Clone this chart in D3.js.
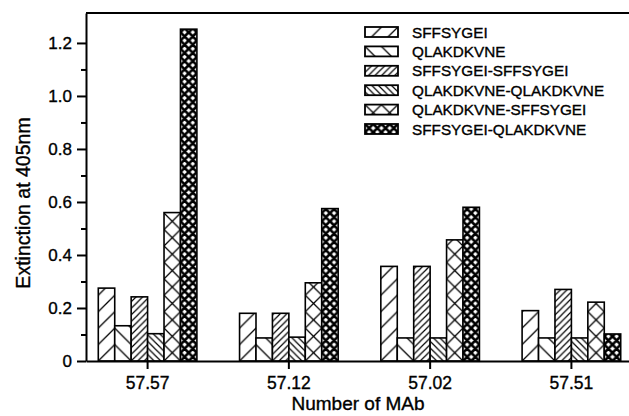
<!DOCTYPE html>
<html>
<head>
<meta charset="utf-8">
<script src="https://cdn.jsdelivr.net/npm/d3@7"></script>
<style>
  body { margin: 0; background: #fff; }
  text { font-family: "Liberation Sans", Arial, Helvetica, sans-serif; fill: #000; stroke: #000; stroke-width: 0.35px; }
</style>
</head>
<body>
<div id="chart"></div>
<script>

var groups = ["57.57", "57.12", "57.02", "57.51"];
var seriesNames = [
  "SFFSYGEI",
  "QLAKDKVNE",
  "SFFSYGEI-SFFSYGEI",
  "QLAKDKVNE-QLAKDKVNE",
  "QLAKDKVNE-SFFSYGEI",
  "SFFSYGEI-QLAKDKVNE"
];

// extinction values, one per MAb in the order of groups
var sffsygei     = [0.275, 0.180, 0.357, 0.190];
var qlakdkvne    = [0.133, 0.087, 0.087, 0.087];
var sffSff       = [0.242, 0.180, 0.357, 0.270];
var qlaQla       = [0.103, 0.090, 0.087, 0.087];
var qlaSff       = [0.560, 0.295, 0.457, 0.222];
var sffQla       = [1.252, 0.575, 0.580, 0.102];
var seriesValues = [sffsygei, qlakdkvne, sffSff, qlaQla, qlaSff, sffQla];

var yTicks = [0, 0.2, 0.4, 0.6, 0.8, 1.0, 1.2];
var yMinorTicks = [0.1, 0.3, 0.5, 0.7, 0.9, 1.1];

var svgWidth = 629;
var svgHeight = 416;

var margin = {
  top: 13,
  right: -4,
  bottom: 55,
  left: 86
};

var width = svgWidth - margin.left - margin.right;
var height = svgHeight - margin.top - margin.bottom;

var svg = d3.select("#chart")
  .append("svg")
  .attr("width", svgWidth)
  .attr("height", svgHeight);

var chartGroup = svg.append("g")
  .attr("transform", `translate(${margin.left}, ${margin.top})`);

var x = d3.scaleBand()
  .domain(groups)
  .range([0, width])
  .paddingInner(0.302)
  .paddingOuter(0.087);

var xSub = d3.scaleBand()
  .domain(seriesNames)
  .range([0, x.bandwidth()]);

var y = d3.scaleLinear()
  .domain([0, 1.313])
  .range([height, 0]);

var bw = xSub.bandwidth();

// hatch patterns
var defs = svg.append("defs");

function fwd(s) {
  return `M${-s/2},${s/2}L${s/2},${-s/2}M0,${s}L${s},0M${s/2},${s*1.5}L${s*1.5},${s/2}`;
}
function back(s) {
  return `M${-s/2},${s/2}L${s/2},${s*1.5}M0,0L${s},${s}M${s/2},${-s/2}L${s*1.5},${s/2}`;
}

function hatch(id, s, d, sw) {
  var p = defs.append("pattern")
    .attr("id", id)
    .attr("patternUnits", "userSpaceOnUse")
    .attr("width", s)
    .attr("height", s);
  p.append("rect").attr("width", s).attr("height", s).attr("fill", "#fff");
  p.append("path")
    .attr("d", d)
    .attr("fill", "none")
    .attr("stroke", "#000")
    .attr("stroke-width", sw);
}

hatch("p0", bw, fwd(bw), 1.3);
hatch("p1", bw, back(bw), 1.3);
hatch("p2", bw / 2.5, fwd(bw / 2.5), 1.2);
hatch("p3", bw / 2.5, back(bw / 2.5), 1.2);
hatch("p4", bw, fwd(bw) + back(bw), 1.3);
hatch("p5", bw / 2, fwd(bw / 2) + back(bw / 2), 2.6);

// bars
var barData = [];
groups.forEach(function(g, gi) {
  seriesNames.forEach(function(s, si) {
    barData.push({ group: g, series: s, idx: si, value: seriesValues[si][gi] });
  });
});

var bars = chartGroup.selectAll(".bar")
  .data(barData)
  .enter()
  .append("g")
  .attr("class", "bar")
  .attr("transform", d => `translate(${x(d.group) + xSub(d.series)}, ${y(0)})`);

bars.append("rect")
  .attr("x", 0)
  .attr("y", d => y(d.value) - y(0))
  .attr("width", bw)
  .attr("height", d => y(0) - y(d.value))
  .attr("fill", d => `url(#p${d.idx})`)
  .attr("stroke", "#000")
  .attr("stroke-width", 1.6);

// axes
var leftAxis = d3.axisLeft(y)
  .tickValues(yTicks)
  .tickSize(9)
  .tickSizeOuter(0)
  .tickPadding(5)
  .tickFormat(d => d === 0 ? "0" : d3.format(".1f")(d));

var yAxis = chartGroup.append("g").call(leftAxis);

var minorAxis = d3.axisLeft(y)
  .tickValues(yMinorTicks)
  .tickSize(5)
  .tickFormat("");

chartGroup.append("g").call(minorAxis).select(".domain").remove();

var bottomAxis = d3.axisBottom(x)
  .tickSize(8)
  .tickSizeOuter(0)
  .tickPadding(8);

var xAxis = chartGroup.append("g")
  .attr("transform", `translate(0, ${height})`)
  .call(bottomAxis);

chartGroup.selectAll(".domain, .tick line")
  .attr("stroke", "#000")
  .attr("stroke-width", 2);

yAxis.selectAll("text").style("font-size", "17px").style("font-family", "'Liberation Sans', Arial, sans-serif");
xAxis.selectAll("text").style("font-size", "17.5px").style("font-family", "'Liberation Sans', Arial, sans-serif");

// top frame line
chartGroup.append("line")
  .attr("x1", 0)
  .attr("x2", width)
  .attr("y1", 0)
  .attr("y2", 0)
  .attr("stroke", "#000")
  .attr("stroke-width", 2);

// axis titles
chartGroup.append("text")
  .attr("transform", "rotate(-90)")
  .attr("x", -(height / 2) - 16)
  .attr("y", -margin.left + 30)
  .attr("text-anchor", "middle")
  .style("font-size", "19.5px")
  .text("Extinction at 405nm");

chartGroup.append("text")
  .attr("x", 272)
  .attr("y", height + 49)
  .attr("text-anchor", "middle")
  .style("font-size", "19px")
  .text("Number of MAb");

// legend
var legend = chartGroup.append("g")
  .attr("transform", `translate(${365 - margin.left}, ${32 - margin.top})`);

var legendRows = legend.selectAll("g")
  .data(seriesNames)
  .enter()
  .append("g")
  .attr("transform", (d, i) => `translate(0, ${i * 19.4})`);

legendRows.append("g")
  .attr("transform", "translate(0, -5)")
  .append("rect")
  .attr("width", 33)
  .attr("height", 10)
  .attr("fill", (d, i) => `url(#p${i})`)
  .attr("stroke", "#000")
  .attr("stroke-width", 1.8);

legendRows.append("text")
  .attr("x", 47)
  .attr("y", 5.5)
  .style("font-size", "15.3px")
  .text(d => d);

</script>
</body>
</html>
